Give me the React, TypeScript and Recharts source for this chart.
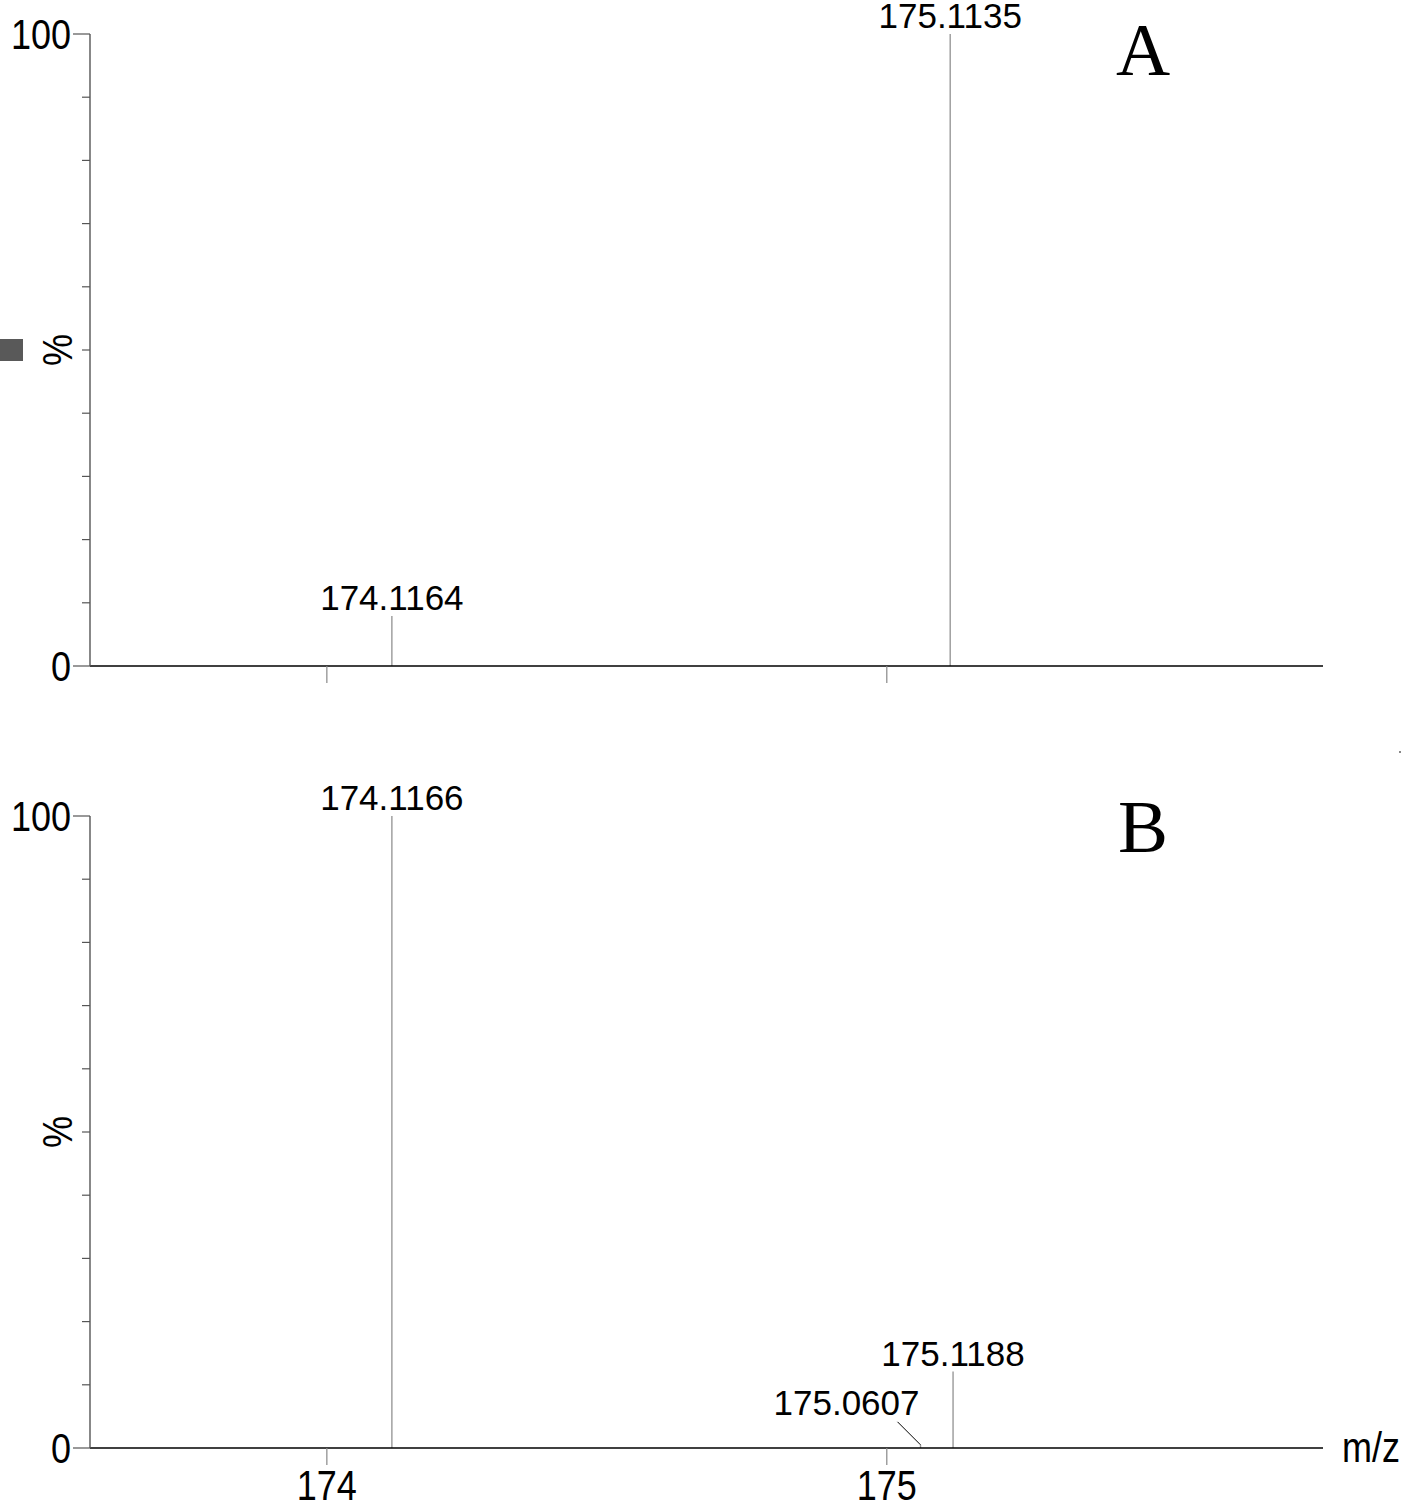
import { Bar, ComposedChart, LabelList, XAxis, YAxis } from "recharts";

// panel A peaks (m/z, relative intensity %)
const mzA = [174.1164, 175.1135];
const intA = [7.9, 100];
// panel B peaks
const mzB = [174.1166, 175.0607, 175.1188];
const intB = [100, 0.5, 12.1];

const yTicks = [0, 10, 20, 30, 40, 50, 60, 70, 80, 90, 100];
const yLabeled = [0, 100];
const xTicks = [174, 175];
const xDomain: [number, number] = [173.577, 175.779];

const FONT = "'Liberation Sans', Arial, sans-serif";
const STRETCH = 1.16;

const toRows = (mz: number[], it: number[]) =>
  mz.map((m, i) => ({ mz: m, int: it[i], label: m.toFixed(4) }));

const dataA = toRows(mzA, intA);
const dataB = toRows(mzB, intB);

const YTick = (p: any) => {
  const v = p.payload.value;
  const major = yLabeled.includes(v);
  return (
    <g>
      <line
        x1={p.x - (major ? 17 : 8)}
        x2={p.x}
        y1={p.y}
        y2={p.y}
        stroke="#555"
        strokeWidth={1.2}
      />
      {major && (
        <text
          transform={`translate(${p.x - 19},${p.y + 15}) scale(1,${STRETCH})`}
          textAnchor="end"
          fontFamily={FONT}
          fontSize={36}
          fill="#000"
        >
          {v}
        </text>
      )}
    </g>
  );
};

const XTick = (show: boolean) => (p: any) =>
  show ? (
    <text
      transform={`translate(${p.x},${p.y + 33}) scale(1,${STRETCH})`}
      textAnchor="middle"
      fontFamily={FONT}
      fontSize={36}
      fill="#000"
    >
      {p.payload.value}
    </text>
  ) : (
    <g />
  );

// peak stick: thin vertical line from the bar top down to the baseline
const Stick = (p: any) => {
  const cx = p.x + p.width / 2;
  return (
    <line
      x1={cx}
      x2={cx}
      y1={p.y}
      y2={p.y + p.height}
      stroke="#999"
      strokeWidth={1.4}
    />
  );
};

const PeakLabel = (p: any) => {
  const cx = p.x + p.width / 2;
  const top = p.y;
  // tiny peaks get their label lifted off with a leader line
  if (p.height < 10) {
    return (
      <g>
        <line x1={cx} y1={top} x2={cx - 23} y2={top - 23} stroke="#000" strokeWidth={1} />
        <text
          x={cx - 74}
          y={top - 30}
          textAnchor="middle"
          fontFamily={FONT}
          fontSize={35}
          fill="#000"
        >
          {p.value}
        </text>
      </g>
    );
  }
  return (
    <text
      x={cx}
      y={top - 6}
      textAnchor="middle"
      fontFamily={FONT}
      fontSize={35}
      fill="#000"
    >
      {p.value}
    </text>
  );
};

const PercentLabel = (p: any) => {
  const vb = p.viewBox;
  const cy = vb.y + vb.height / 2;
  return (
    <text
      transform={`translate(72,${cy}) rotate(-90) scale(1,${STRETCH})`}
      textAnchor="middle"
      fontFamily={FONT}
      fontSize={36}
      fill="#000"
    >
      %
    </text>
  );
};

const MzLabel = (p: any) => {
  const vb = p.viewBox;
  return (
    <text
      transform={`translate(${vb.x + vb.width + 19},${vb.y + 14}) scale(1,${STRETCH})`}
      fontFamily={FONT}
      fontSize={36}
      fill="#000"
    >
      m/z
    </text>
  );
};

function Spectrum({
  data,
  height,
  top,
  bottom,
  showX,
}: {
  data: { mz: number; int: number; label: string }[];
  height: number;
  top: number;
  bottom: number;
  showX: boolean;
}) {
  return (
    <ComposedChart
      width={1404}
      height={height}
      data={data}
      margin={{ top, right: 81, bottom, left: 0 }}
      style={{ overflow: "visible" }}
    >
      <XAxis
        dataKey="mz"
        type="number"
        domain={xDomain}
        allowDataOverflow
        ticks={xTicks}
        tickSize={17}
        tickLine={{ stroke: "#888", strokeWidth: 1.2 }}
        axisLine={{ stroke: "#000", strokeWidth: 1.6 }}
        tick={XTick(showX)}
        height={40}
        label={showX ? <MzLabel /> : undefined}
      />
      <YAxis
        type="number"
        domain={[0, 100]}
        ticks={yTicks}
        interval={0}
        width={90}
        tickSize={0}
        tickMargin={0}
        tickLine={false}
        axisLine={{ stroke: "#555", strokeWidth: 1.4 }}
        tick={<YTick />}
        label={<PercentLabel />}
      />
      <Bar dataKey="int" barSize={2} shape={<Stick />} isAnimationActive={false}>
        <LabelList dataKey="label" content={<PeakLabel />} />
      </Bar>
    </ComposedChart>
  );
}

export default function App() {
  return (
    <div
      style={{
        position: "absolute",
        left: 0,
        top: 0,
        width: 1404,
        height: 1502,
        overflow: "hidden",
        background: "#fff",
      }}
    >
      <div style={{ position: "absolute", left: 0, top: 0 }}>
        <Spectrum data={dataA} height={750} top={34} bottom={44} showX={false} />
      </div>
      <div style={{ position: "absolute", left: 0, top: 750 }}>
        <Spectrum data={dataB} height={760} top={66} bottom={22} showX />
      </div>
      <svg
        width={1404}
        height={1502}
        style={{ position: "absolute", left: 0, top: 0, pointerEvents: "none" }}
      >
        <text x={1143} y={75} textAnchor="middle" fontFamily="'Liberation Serif', 'Times New Roman', serif" fontSize={75} fill="#000">
          A
        </text>
        <text x={1143} y={852} textAnchor="middle" fontFamily="'Liberation Serif', 'Times New Roman', serif" fontSize={75} fill="#000">
          B
        </text>
        <rect x={0} y={339} width={23} height={22} fill="#595959" />
        <rect x={1399} y={751} width={2} height={2} fill="#888" />
      </svg>
    </div>
  );
}
